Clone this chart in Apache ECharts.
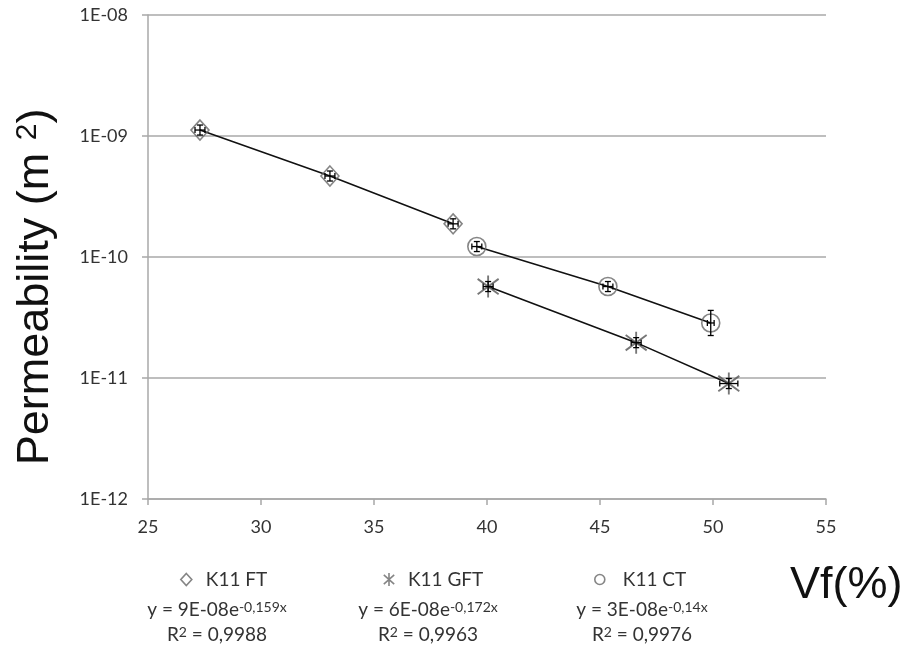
<!DOCTYPE html>
<html>
<head>
<meta charset="utf-8">
<script src="https://cdn.jsdelivr.net/npm/echarts@6/dist/echarts.min.js"></script>
<style>html,body{margin:0;padding:0;background:#fff;}#c{width:908px;height:649px;}</style>
</head>
<body>
<div id="c"></div>
<script>
// ---- data ----
const seriesNames = ['K11 FT', 'K11 GFT', 'K11 CT'];
const ftX = [27.3, 33.05, 38.5];
const ftY = [1.12e-9, 4.67e-10, 1.88e-10];
const ftXErr = [0.22, 0.22, 0.22];
const ftYErr = [0.1, 0.1, 0.1];
const gftX = [40.05, 46.6, 50.7];
const gftY = [5.7e-11, 1.96e-11, 9.0e-12];
const gftXErr = [0.22, 0.22, 0.4];
const gftYErr = [0.1, 0.1, 0.1];
const ctX = [39.55, 45.35, 49.9];
const ctY = [1.22e-10, 5.7e-11, 2.85e-11];
const ctXErr = [0.22, 0.22, 0.15];
const ctYErr = [0.1, 0.1, 0.27];
const yTickLabels = ['1E-12', '1E-11', '1E-10', '1E-09', '1E-08'];
const eqMain = ['y = 9E-08e', 'y = 6E-08e', 'y = 3E-08e'];
const eqExp = ['-0,159x', '-0,172x', '-0,14x'];
const r2Values = ['0,9988', '0,9963', '0,9976'];
const xTitle = 'Vf(%)';
const yTitle = 'Permeability (m {s|2})';

// ---- styling ----
const markerColor = '#666666';
const textColor = '#333333';
const gridColor = '#a8a8a8';
const tickFont = 'Lato';
const titleFont = 'Liberation Sans';
const starPath = 'path://M10,0L10,20M2,3L18,17M2,17L18,3';

function pts(xs, ys) { return xs.map((x, i) => [x, ys[i]]); }
function errPts(xs, ys, xe, ye) { return xs.map((x, i) => [x, ys[i], xe[i], ye[i]]); }

function renderErr(params, api) {
  const x = api.value(0), y = api.value(1), dx = api.value(2), fy = api.value(3);
  const c = api.coord([x, y]);
  const l = api.coord([x - dx, y]);
  const r = api.coord([x + dx, y]);
  const t = api.coord([x, y * (1 + fy)]);
  const b = api.coord([x, y / (1 + fy)]);
  const cap = 3;
  const st = { stroke: '#000', lineWidth: 1.3 };
  const seg = (x1, y1, x2, y2) => ({ type: 'line', shape: { x1, y1, x2, y2 }, style: st });
  return {
    type: 'group',
    children: [
      seg(l[0], c[1], r[0], c[1]),
      seg(l[0], c[1] - cap, l[0], c[1] + cap),
      seg(r[0], c[1] - cap, r[0], c[1] + cap),
      seg(c[0], t[1], c[0], b[1]),
      seg(c[0] - cap, t[1], c[0] + cap, t[1]),
      seg(c[0] - cap, b[1], c[0] + cap, b[1])
    ]
  };
}

const markerStyle = { color: 'transparent', borderColor: markerColor, borderWidth: 1.6 };
const lineSeries = (data) => ({
  type: 'line', data, symbol: 'none', silent: true, z: 2,
  lineStyle: { color: '#111', width: 1.6 }
});
const errSeries = (data) => ({
  type: 'custom', data, renderItem: renderErr, z: 5, silent: true,
  encode: { x: 0, y: 1 }
});

const legendBase = {
  orient: 'horizontal', top: 565, itemGap: 0,
  textStyle: { fontFamily: tickFont, fontSize: 19, color: textColor },
  itemStyle: { color: 'transparent', borderColor: markerColor, borderWidth: 1.6 },
  selectedMode: false
};

const richStyles = {
  m: { fontFamily: tickFont, fontSize: 19, fill: textColor, color: textColor },
  s: { fontFamily: tickFont, fontSize: 14, fill: textColor, color: textColor, verticalAlign: 'top' }
};
const eqGraphics = [];
const eqCenters = [217, 428, 642];
eqCenters.forEach((cx, i) => {
  eqGraphics.push({
    type: 'text', x: cx, y: 610,
    style: {
      text: '{m|' + eqMain[i] + '}{s|' + eqExp[i] + '}',
      align: 'center', verticalAlign: 'middle', rich: richStyles
    }
  });
  eqGraphics.push({
    type: 'text', x: cx, y: 635,
    style: {
      text: '{m|R}{s|2}{m| = ' + r2Values[i] + '}',
      align: 'center', verticalAlign: 'middle', rich: richStyles
    }
  });
});

const option = {
  animation: false,
  backgroundColor: '#fff',
  grid: { left: 148, right: 82, top: 15, bottom: 150, containLabel: false },
  xAxis: {
    type: 'value', min: 25, max: 55, interval: 5,
    axisLine: { show: true, lineStyle: { color: gridColor, width: 1.5 } },
    axisTick: { show: true, length: 6, lineStyle: { color: gridColor, width: 1.5 } },
    axisLabel: { margin: 19, fontFamily: tickFont, fontSize: 18, color: textColor },
    splitLine: { show: false }
  },
  yAxis: {
    type: 'log', logBase: 10, min: 1e-12, max: 1e-8, splitNumber: 4,
    axisLine: { show: true, lineStyle: { color: gridColor, width: 1.5 } },
    axisTick: { show: true, length: 6, lineStyle: { color: gridColor, width: 1.5 } },
    axisLabel: {
      margin: 20, fontFamily: tickFont, fontSize: 18, color: textColor,
      formatter: (v) => yTickLabels[Math.round(Math.log10(v)) + 12]
    },
    splitLine: { show: true, lineStyle: { color: gridColor, width: 1.5 } },
    minorTick: { show: false },
    name: yTitle, nameLocation: 'middle', nameGap: 90,
    nameTextStyle: {
      fontFamily: titleFont, fontSize: 45, color: '#111',
      padding: [0, 60, 0, 0],
      rich: { s: { fontFamily: titleFont, fontSize: 30, color: '#111', verticalAlign: 'top' } }
    }
  },
  legend: [
    Object.assign({}, legendBase, { left: 175, itemWidth: 11, itemHeight: 12,
      data: [{ name: seriesNames[0], icon: 'diamond' }],
      textStyle: Object.assign({}, legendBase.textStyle, { padding: [0, 0, 0, 9] }) }),
    Object.assign({}, legendBase, { left: 378, itemWidth: 12, itemHeight: 13,
      data: [{ name: seriesNames[1], icon: starPath }],
      textStyle: Object.assign({}, legendBase.textStyle, { padding: [0, 0, 0, 8] }) }),
    Object.assign({}, legendBase, { left: 589, itemWidth: 10, itemHeight: 10,
      data: [{ name: seriesNames[2], icon: 'circle' }],
      textStyle: Object.assign({}, legendBase.textStyle, { padding: [0, 0, 0, 13] }) })
  ],
  graphic: [
    {
      type: 'text', left: 790, top: 563,
      style: { text: xTitle, fontFamily: titleFont, fontSize: 45, fill: '#111' }
    }
  ].concat(eqGraphics),
  series: [
    lineSeries(pts(ftX, ftY)),
    lineSeries(pts(gftX, gftY)),
    lineSeries(pts(ctX, ctY)),
    { name: seriesNames[0], type: 'scatter', data: pts(ftX, ftY), symbol: 'diamond',
      symbolSize: [18, 20], itemStyle: markerStyle, z: 3 },
    { name: seriesNames[1], type: 'scatter', data: pts(gftX, gftY), symbol: starPath,
      symbolSize: [21, 22], itemStyle: Object.assign({}, markerStyle, { borderColor: '#555', borderWidth: 1.9 }), z: 3 },
    { name: seriesNames[2], type: 'scatter', data: pts(ctX, ctY), symbol: 'circle',
      symbolSize: 18, itemStyle: markerStyle, z: 3 },
    errSeries(errPts(ftX, ftY, ftXErr, ftYErr)),
    errSeries(errPts(gftX, gftY, gftXErr, gftYErr)),
    errSeries(errPts(ctX, ctY, ctXErr, ctYErr))
  ]
};

const chart = echarts.init(document.getElementById('c'), null, { renderer: 'canvas' });
chart.setOption(option);
</script>
</body>
</html>
